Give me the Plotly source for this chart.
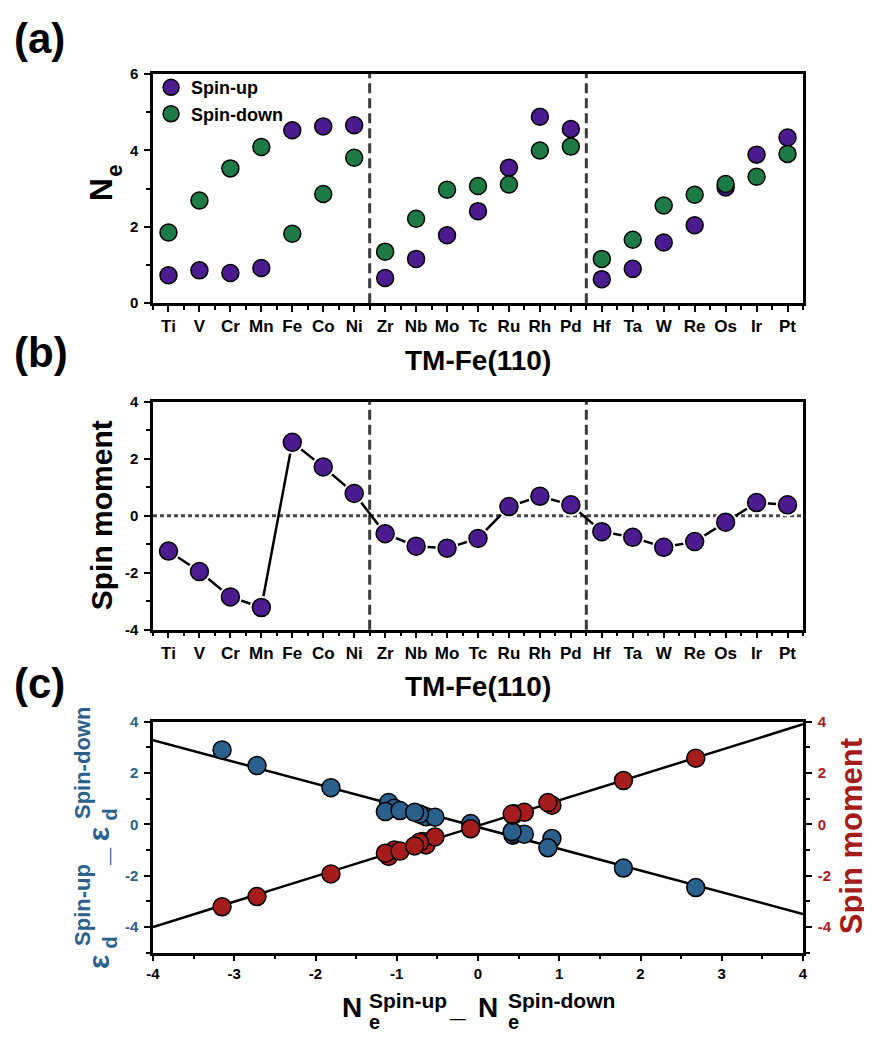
import plotly.graph_objects as go

# ---------------- data ----------------
elements = ["Ti", "V", "Cr", "Mn", "Fe", "Co", "Ni", "Zr", "Nb", "Mo", "Tc",
            "Ru", "Rh", "Pd", "Hf", "Ta", "W", "Re", "Os", "Ir", "Pt"]
ne_spin_up = [0.73, 0.86, 0.79, 0.92, 4.53, 4.63, 4.66, 0.66, 1.16, 1.78, 2.41,
              3.55, 4.88, 4.56, 0.63, 0.90, 1.59, 2.04, 3.03, 3.89, 4.34]
ne_spin_down = [1.85, 2.69, 3.53, 4.09, 1.82, 2.86, 3.81, 1.35, 2.21, 2.97, 3.07,
                3.11, 4.00, 4.10, 1.16, 1.66, 2.56, 2.84, 3.12, 3.31, 3.91]
spin_moment = [-1.24, -1.96, -2.85, -3.22, 2.57, 1.71, 0.78, -0.63, -1.07, -1.14, -0.80,
               0.32, 0.68, 0.38, -0.56, -0.76, -1.11, -0.91, -0.23, 0.46, 0.38]

# panel (c)
ne_diff = [-1.10, -1.81, -2.72, -3.15, 2.68, 1.79, 0.91, -0.68, -1.03, -1.14, -0.64,
           0.43, 0.86, 0.45, -0.53, -0.72, -0.96, -0.78, -0.09, 0.57, 0.42]
eps_diff = [0.85, 1.43, 2.29, 2.90, -2.46, -1.70, -0.55, 0.35, 0.63, 0.50, 0.30,
            -0.42, -0.91, -0.35, 0.28, 0.40, 0.54, 0.47, 0.03, -0.38, -0.28]
moment_c = [-1.25, -1.93, -2.81, -3.21, 2.58, 1.71, 0.75, -0.67, -1.00, -1.12, -0.80,
            0.36, 0.85, 0.41, -0.49, -0.70, -1.04, -0.84, -0.17, 0.47, 0.40]

# linear fits (slope, intercept)
fit_eps = (-0.846, -0.105)
fit_mom = (0.9875, -0.05)
fit_x = [-4, 4]

group_bounds = [6.5, 13.5]

# tick labels
ne_ticks = [0, 2, 4, 6]
sm_ticks = [-4, -2, 0, 2, 4]
c_x_ticks = [-4, -3, -2, -1, 0, 1, 2, 3, 4]
c_y_ticks = [-4, -2, 0, 2, 4]

# ---------------- style ----------------
PURPLE = "#4b1b8f"
GREEN = "#1d7a45"
BLUE = "#2b5f8c"
RED = "#a51c1c"
FONT = "Liberation Sans, Arial, sans-serif"
OFF = 8                      # page body margin
W, H = 872 - OFF, 1041 - OFF
L = 153 - OFF
PW = 650
R = W - L - PW


def px(x):
    return (x - OFF - L) / PW


def py(y):
    return 1 - (y - OFF) / H


def labels(vals):
    return [str(v) for v in vals]


xpos = list(range(len(elements)))
fig = go.Figure()

mk = dict(size=17, line=dict(color="black", width=1.5))

# (a)
fig.add_trace(go.Scatter(x=xpos, y=ne_spin_up, mode="markers", name="Spin-up",
                         marker=dict(color=PURPLE, **mk), xaxis="x", yaxis="y"))
fig.add_trace(go.Scatter(x=xpos, y=ne_spin_down, mode="markers", name="Spin-down",
                         marker=dict(color=GREEN, **mk), xaxis="x", yaxis="y"))

# (b)
fig.add_trace(go.Scatter(x=xpos, y=spin_moment, mode="lines", showlegend=False,
                         line=dict(color="black", width=2.5), xaxis="x2", yaxis="y2"))
fig.add_trace(go.Scatter(x=xpos, y=spin_moment, mode="markers", showlegend=False,
                         marker=dict(color="white", size=23, line=dict(width=0)),
                         xaxis="x2", yaxis="y2"))
fig.add_trace(go.Scatter(x=xpos, y=spin_moment, mode="markers", showlegend=False,
                         marker=dict(color=PURPLE, size=18, line=dict(color="black", width=1.5)),
                         xaxis="x2", yaxis="y2"))

# (c)
fig.add_trace(go.Scatter(x=fit_x, y=[fit_eps[0] * v + fit_eps[1] for v in fit_x], mode="lines",
                         showlegend=False, line=dict(color="black", width=2.5),
                         xaxis="x3", yaxis="y3"))
fig.add_trace(go.Scatter(x=fit_x, y=[fit_mom[0] * v + fit_mom[1] for v in fit_x], mode="lines",
                         showlegend=False, line=dict(color="black", width=2.5),
                         xaxis="x3", yaxis="y4"))
fig.add_trace(go.Scatter(x=ne_diff, y=eps_diff, mode="markers", showlegend=False,
                         marker=dict(color=BLUE, size=18, line=dict(color="black", width=1.5)),
                         xaxis="x3", yaxis="y3"))
fig.add_trace(go.Scatter(x=ne_diff, y=moment_c, mode="markers", showlegend=False,
                         marker=dict(color=RED, size=18, line=dict(color="black", width=1.5)),
                         xaxis="x3", yaxis="y4"))

# shapes
shapes = []
for xr, yr in (("x", "y"), ("x2", "y2")):
    for b in group_bounds:
        shapes.append(dict(type="line", xref=xr, yref=yr + " domain", x0=b, x1=b, y0=0, y1=1,
                           line=dict(color="#3c3c3c", width=3, dash="10px,5px"), layer="below"))
shapes.append(dict(type="line", xref="x2 domain", yref="y2", x0=0, x1=1, y0=0, y1=0,
                   line=dict(color="#4a4a4a", width=3, dash="4px,3px"), layer="below"))

tickf = dict(family=FONT, size=17, color="black", weight="bold")
ytickf = dict(family=FONT, size=15, color="black", weight="bold")
minor_tk = dict(ticks="outside", ticklen=4, tickwidth=2, tickcolor="black")

cat_x = dict(range=[-0.5, 20.5], tickmode="array", tickvals=xpos, ticktext=elements,
             showline=True, linecolor="black", linewidth=2.5, mirror=True,
             ticks="outside", ticklen=6, tickwidth=2, tickcolor="black",
             tickfont=tickf, showgrid=False, zeroline=False,
             minor=dict(tickmode="linear", tick0=0.5, dtick=1, **minor_tk))


def yax(rng, tv, domain, **kw):
    d = dict(range=rng, tickmode="array", tickvals=tv, ticktext=labels(tv), domain=domain,
             showline=True, linecolor="black",
             linewidth=2.5, mirror=True, ticks="outside", ticklen=6, tickwidth=2,
             tickcolor="black", tickfont=ytickf, showgrid=False, zeroline=False,
             ticklabelstandoff=3,
             minor=dict(tickmode="linear", tick0=0, dtick=1, **minor_tk))
    d.update(kw)
    return d


dom_a = [py(299), py(66)]
dom_b = [py(631), py(399)]
dom_c = [py(959.4), py(724.5)]

fig.update_layout(
    width=W, height=H,
    margin=dict(l=L, r=R, t=0, b=0),
    paper_bgcolor="white", plot_bgcolor="white",
    font=dict(family=FONT, color="black"),
    xaxis=dict(cat_x, anchor="y"),
    yaxis=yax([0, 6], ne_ticks, dom_a, anchor="x"),
    xaxis2=dict(cat_x, anchor="y2"),
    yaxis2=yax([-4, 4], sm_ticks, dom_b, anchor="x2"),
    xaxis3=dict(range=[-4, 4], tickmode="array", tickvals=c_x_ticks, ticktext=labels(c_x_ticks),
                anchor="y3", showline=True, linecolor="black",
                linewidth=2.5, mirror=True, ticks="outside", ticklen=6, tickwidth=2,
                tickcolor="black", tickfont=ytickf, showgrid=False, zeroline=False,
                minor=dict(tickmode="linear", tick0=0.5, dtick=1, **minor_tk)),
    yaxis3=dict(range=[-5, 4], tickmode="array", tickvals=c_y_ticks, ticktext=labels(c_y_ticks),
                domain=dom_c, anchor="x3",
                showline=True, linecolor="black", linewidth=2.5, mirror=False,
                ticks="outside", ticklen=6, tickwidth=2, tickcolor="black",
                tickfont=dict(family=FONT, size=15, color=BLUE, weight="bold"),
                showgrid=False, zeroline=False, ticklabelstandoff=3,
                minor=dict(tickmode="linear", tick0=-5, dtick=2, **minor_tk)),
    yaxis4=dict(range=[-5, 4], tickmode="array", tickvals=c_y_ticks, ticktext=labels(c_y_ticks),
                overlaying="y3", side="right",
                anchor="x3", showline=True, linecolor="black", linewidth=2.5,
                ticks="outside", ticklen=6, tickwidth=2, tickcolor="black",
                tickfont=dict(family=FONT, size=15, color=RED, weight="bold"),
                showgrid=False, zeroline=False, ticklabelstandoff=3,
                minor=dict(tickmode="linear", tick0=-5, dtick=2, **minor_tk)),
    legend=dict(x=-0.003, y=py(61), xanchor="left", yanchor="top", bgcolor="rgba(0,0,0,0)",
                font=dict(family=FONT, size=18, color="black", weight="bold"),
                itemsizing="trace", tracegroupgap=0),
    shapes=shapes,
    showlegend=True,
)

ann = []


def txt(text, x, y, size, color="black", xa="center", ya="middle", angle=0):
    ann.append(dict(text=text, x=px(x), y=py(y), xref="paper", yref="paper",
                    xanchor=xa, yanchor=ya, textangle=angle, showarrow=False,
                    font=dict(family=FONT, size=size, color=color, weight="bold")))


# panel labels
txt("(a)", 12, 29.4, 42, xa="left")
txt("(b)", 12, 349.4, 42, xa="left")
txt("(c)", 12, 685.4, 42, xa="left")

# (a) titles
txt("N", 100.9, 197, 32, ya="bottom", angle=-90)
txt("e", 114.4, 172, 22, ya="bottom", angle=-90)
txt("TM-Fe(110)", 478, 357, 28)

# (b) titles
txt("Spin moment", 101.6, 515, 30, angle=-90)
txt("TM-Fe(110)", 478, 689, 28)

# (c) x title
txt("N", 340, 1015, 28, xa="left")
txt("Spin-up", 367, 1007.5, 21, xa="left")
txt("e", 367, 1030, 20, xa="left")
txt("_", 447, 1015, 28, xa="left")
txt("N", 476, 1015, 28, xa="left")
txt("Spin-down", 506, 1007.5, 21, xa="left")
txt("e", 506, 1030, 20, xa="left")

# (c) left title (rotated, blue)
txt("\u03b5", 98, 978, 30, BLUE, ya="bottom", angle=-90)
txt("d", 110, 957, 20, BLUE, ya="bottom", angle=-90)
txt("Spin-up", 82.5, 955, 22, BLUE, ya="bottom", angle=-90)
txt("_", 98, 873, 30, BLUE, ya="bottom", angle=-90)
txt("\u03b5", 98, 848, 30, BLUE, ya="bottom", angle=-90)
txt("d", 110, 827, 20, BLUE, ya="bottom", angle=-90)
txt("Spin-down", 82.5, 826, 22, BLUE, ya="bottom", angle=-90)

# (c) right title
txt("Spin moment", 851, 841, 31, RED, angle=-90)

fig.update_layout(annotations=ann)
fig.write_html("out.html")
